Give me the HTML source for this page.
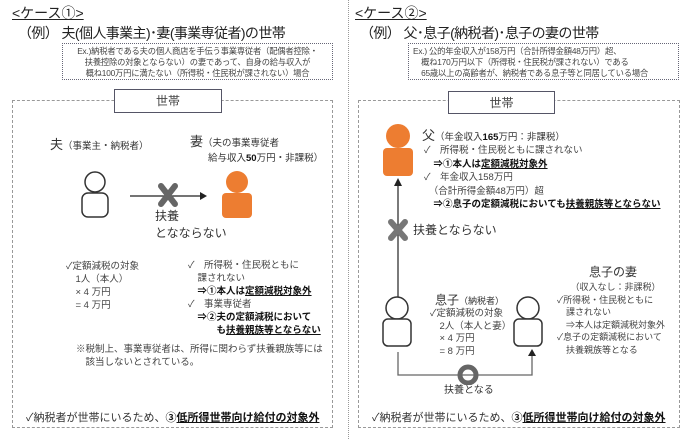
<!DOCTYPE html>
<html><head><meta charset="utf-8"><style>
*{margin:0;padding:0;box-sizing:border-box}
body{width:690px;height:439px;background:#fff;position:relative;overflow:hidden;font-family:"Liberation Sans","Noto Sans CJK JP",sans-serif;color:#333}
.a{position:absolute;white-space:nowrap}
.t1{font-size:14px;line-height:16px;text-decoration:underline;color:#222}
.t2{font-size:14px;line-height:16px;color:#222;letter-spacing:-0.6px}
.ex{position:absolute;border:1px dotted #667;font-size:8.3px;line-height:11px;padding:2px 4px;color:#444;white-space:nowrap;overflow:hidden;letter-spacing:-0.2px}
.box{position:absolute;border:1px dashed #999}
.lab{position:absolute;border:1px solid #556;background:#fff;font-size:12px;text-align:center;line-height:22px;color:#444}
.s{font-size:9.5px;line-height:13px;color:#444}
b{color:#111}
u{text-decoration:underline}
</style></head><body>
<div class="a" style="left:348px;top:0;height:439px;border-left:1px dotted #999"></div>

<!-- LEFT -->
<div class="a t1" style="left:12px;top:5px">&lt;ケース①&gt;</div>
<div class="a t2" style="left:18px;top:25px">（例） 夫(個人事業主)･妻(事業専従者)の世帯</div>
<div class="ex" style="left:62px;top:43px;width:271px;height:37px;text-align:center">Ex.)納税者である夫の個人商店を手伝う事業専従者（配偶者控除・<br>扶養控除の対象とならない）の妻であって、自身の給与収入が<br>概ね100万円に満たない（所得税・住民税が課されない）場合</div>
<div class="box" style="left:12px;top:100px;width:321px;height:328px"></div>
<div class="lab" style="left:114px;top:89px;width:108px;height:24px">世帯</div>
<div class="a" style="left:50px;top:137px;font-size:13px;line-height:15px">夫<span style="font-size:9.5px">（事業主・納税者）</span></div>
<div class="a" style="left:190px;top:134px;font-size:13px;line-height:15px">妻<span style="font-size:9.5px">（夫の事業専従者</span></div>
<div class="a" style="left:208px;top:152px;font-size:9.5px;line-height:13px">給与収入<b>50</b>万円・非課税）</div>
<svg class="a" style="left:75px;top:168px" width="190" height="52">
<circle cx="20" cy="14" r="10" fill="#fff" stroke="#333" stroke-width="1.5"/>
<rect x="7" y="25" width="26" height="24" rx="6" fill="#fff" stroke="#333" stroke-width="1.5"/>
<line x1="55" y1="28" x2="125" y2="28" stroke="#222" stroke-width="1.3"/>
<polygon points="125,24 132,28 125,32" fill="#222"/>
<g stroke="#666" stroke-width="6" stroke-linecap="round"><line x1="86" y1="18" x2="100" y2="36"/><line x1="100" y1="18" x2="86" y2="36"/></g>
<circle cx="162" cy="14" r="11" fill="#ed7d31"/>
<rect x="147" y="25" width="30" height="25" rx="4" fill="#ed7d31"/>
</svg>
<div class="a" style="left:155px;top:208px;font-size:12px;line-height:17px">扶養<br>となならない</div>
<div class="a s" style="left:66px;top:260px">✓定額減税の対象<br>　1人（本人）<br>　× 4 万円<br>　= 4 万円</div>
<div class="a s" style="left:188px;top:259px">✓　所得税・住民税ともに<br>　課されない<br>　<b>⇒①本人は<u>定額減税対象外</u></b><br>✓　事業専従者<br>　<b>⇒②夫の定額減税において<br>　　　も<u>扶養親族等とならない</u></b></div>
<div class="a s" style="left:76px;top:343px">※税制上、事業専従者は、所得に関わらず扶養親族等には<br>　該当しないとされている。</div>
<div class="a" style="left:26px;top:411px;font-size:11px;line-height:14px">✓納税者が世帯にいるため、<b>③<u>低所得世帯向け給付の対象外</u></b></div>

<!-- RIGHT -->
<div class="a t1" style="left:355px;top:5px">&lt;ケース②&gt;</div>
<div class="a t2" style="left:360px;top:25px">（例） 父･息子(納税者)･息子の妻の世帯</div>
<div class="ex" style="left:408px;top:43px;width:271px;height:37px">Ex.) 公的年金収入が158万円（合計所得金額48万円）超、<br>　概ね170万円以下（所得税・住民税が課されない）である<br>　65歳以上の高齢者が、納税者である息子等と同居している場合</div>
<div class="box" style="left:358px;top:100px;width:322px;height:328px"></div>
<div class="lab" style="left:448px;top:91px;width:107px;height:23px">世帯</div>
<svg class="a" style="left:370px;top:120px" width="200" height="265">
<circle cx="28" cy="16" r="12" fill="#ed7d31"/>
<rect x="13" y="28" width="30" height="28" rx="4" fill="#ed7d31"/>
<line x1="28" y1="185" x2="28" y2="65" stroke="#333" stroke-width="1.3"/>
<polygon points="24,66 28,58 32,66" fill="#222"/>
<g stroke="#777" stroke-width="6" stroke-linecap="round"><line x1="21" y1="102" x2="35" y2="118"/><line x1="35" y1="102" x2="21" y2="118"/></g>
<circle cx="27" cy="188" r="11" fill="#fff" stroke="#333" stroke-width="1.5"/>
<rect x="13" y="199" width="28" height="27" rx="5" fill="#fff" stroke="#333" stroke-width="1.5"/>
<circle cx="158" cy="188" r="11" fill="#fff" stroke="#333" stroke-width="1.5"/>
<rect x="144" y="199" width="28" height="27" rx="5" fill="#fff" stroke="#333" stroke-width="1.5"/>
<polyline points="28,232 28,255 162,255 162,235" fill="none" stroke="#666" stroke-width="1.3"/>
<polygon points="158,236 162,229 166,236" fill="#222"/>
<circle cx="98" cy="255" r="8" fill="none" stroke="#666" stroke-width="5"/>
</svg>
<div class="a" style="left:422px;top:128px;font-size:13px;line-height:15px">父<span style="font-size:9.5px">（年金収入<b>165</b>万円：非課税）</span></div>
<div class="a s" style="left:424px;top:144px;line-height:13.5px">✓　所得税・住民税ともに課されない<br>　<b>⇒①本人は<u>定額減税対象外</u></b><br>✓　年金収入158万円<br>　（合計所得金額48万円）超<br>　<b>⇒②息子の定額減税においても<u>扶養親族等とならない</u></b></div>
<div class="a" style="left:413px;top:223px;font-size:12px;line-height:15px">扶養とならない</div>
<div class="a" style="left:435px;top:293px;font-size:12px;line-height:14px">息子<span style="font-size:9px">（納税者）</span></div>
<div class="a s" style="left:430px;top:308px;line-height:12.5px">✓定額減税の対象<br>　2人（本人と妻）<br>　× 4 万円<br>　= 8 万円</div>
<div class="a" style="left:589px;top:265px;font-size:12px;line-height:14px">息子の妻</div>
<div class="a s" style="left:557px;top:281px;font-size:9px;line-height:12.5px">　　（収入なし：非課税）<br>✓所得税・住民税ともに<br>　課されない<br>　⇒本人は定額減税対象外<br>✓息子の定額減税において<br>　扶養親族等となる</div>
<div class="a" style="left:444px;top:385px;font-size:10px;line-height:12px">扶養となる</div>
<div class="a" style="left:372px;top:411px;font-size:11px;line-height:14px">✓納税者が世帯にいるため、<b>③<u>低所得世帯向け給付の対象外</u></b></div>
</body></html>
